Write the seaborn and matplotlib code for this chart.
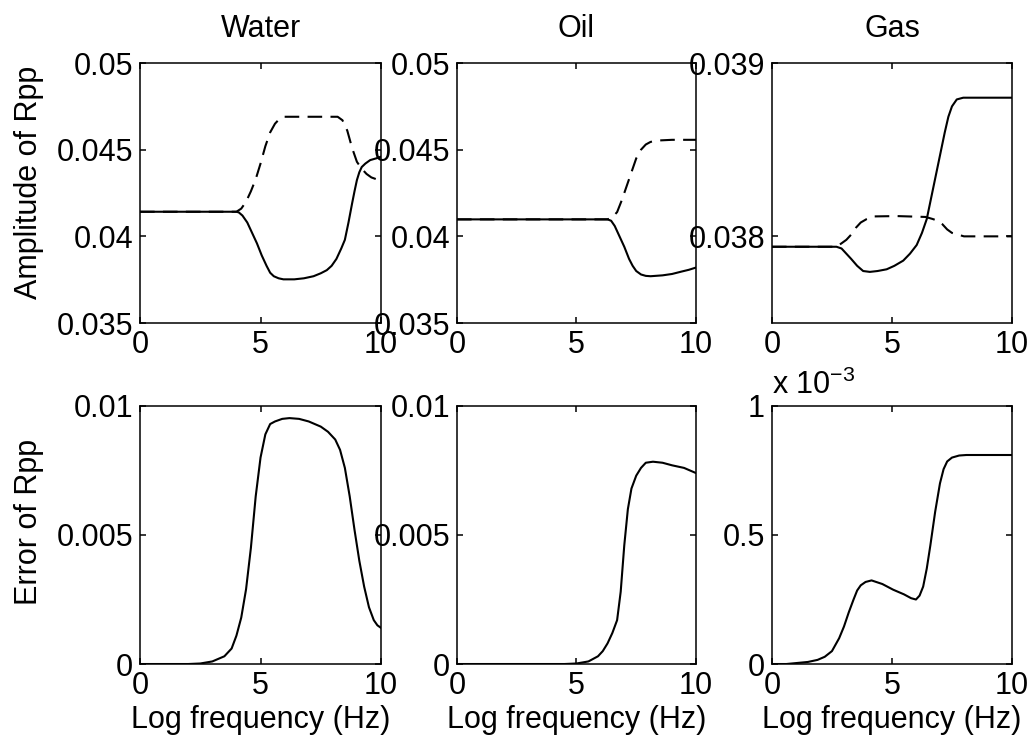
import matplotlib
matplotlib.use("Agg")
import matplotlib.pyplot as plt
import seaborn as sns

# ----------------------------------------
# Data
# ----------------------------------------

panel_titles = ["Water", "Oil", "Gas"]

# Water - amplitude of Rpp (solid / dashed) and error
water_solid_x = [0, 4.0, 4.1, 4.25, 4.45, 4.65, 4.85, 5.05, 5.25, 5.4, 5.55, 5.75, 5.95, 6.4, 6.8, 7.2,
                 7.5, 7.75, 7.95, 8.15, 8.35, 8.5, 8.65, 8.8, 8.9, 9.0, 9.1, 9.2, 9.35, 9.55, 9.8, 10]
water_solid_y = [0.04142, 0.04142, 0.04138, 0.0412, 0.0408, 0.0402, 0.0396, 0.0389, 0.0383, 0.0379,
                 0.0377, 0.03758, 0.03752, 0.03752, 0.03758, 0.0377, 0.03787, 0.03805, 0.0383, 0.0387,
                 0.0393, 0.0398, 0.0408, 0.0419, 0.0426, 0.04325, 0.0437, 0.0440, 0.0442, 0.0444,
                 0.0445, 0.0446]
water_dash_x = [0, 4.0, 4.2, 4.4, 4.6, 4.8, 5.0, 5.2, 5.4, 5.6, 5.8, 6.0, 8.2, 8.4, 8.6, 8.8, 9.0,
                9.2, 9.4, 9.6, 9.8, 10]
water_dash_y = [0.04142, 0.04142, 0.0416, 0.0420, 0.0426, 0.0433, 0.0442, 0.0452, 0.0460, 0.0465,
                0.0468, 0.0469, 0.0469, 0.0467, 0.0461, 0.0451, 0.0443, 0.0439, 0.0436, 0.0434,
                0.0433, 0.0432]
water_err_x = [0, 2.0, 2.5, 3.0, 3.5, 3.8, 4.0, 4.2, 4.4, 4.6, 4.8, 5.0, 5.2, 5.4, 5.6, 5.9, 6.2,
               6.6, 7.0, 7.5, 7.8, 8.1, 8.3, 8.5, 8.7, 8.9, 9.1, 9.3, 9.5, 9.7, 9.85, 10]
water_err_y = [0, 0, 0.00002, 0.0001, 0.0003, 0.0006, 0.0011, 0.0018, 0.0029, 0.0045, 0.0065,
               0.0080, 0.0089, 0.0093, 0.0094, 0.0095, 0.00953, 0.0095, 0.0094, 0.0092, 0.0090,
               0.0087, 0.0083, 0.0076, 0.0065, 0.0052, 0.0040, 0.0030, 0.0022, 0.0017, 0.0015,
               0.0014]

# Oil
oil_solid_x = [0, 6.3, 6.45, 6.6, 6.8, 7.0, 7.2, 7.35, 7.5, 7.7, 7.9, 8.1, 8.6, 9.0, 9.4, 9.7, 10]
oil_solid_y = [0.04098, 0.04098, 0.0409, 0.0406, 0.0400, 0.0394, 0.0387, 0.0383, 0.0380, 0.0378,
               0.03772, 0.0377, 0.03775, 0.03783, 0.03797, 0.03807, 0.0382]
oil_dash_x = [0, 6.3, 6.5, 6.7, 6.9, 7.1, 7.3, 7.5, 7.7, 7.9, 8.1, 8.4, 9.0, 10]
oil_dash_y = [0.04098, 0.04098, 0.0411, 0.0414, 0.0421, 0.0429, 0.0437, 0.0445, 0.0450, 0.0453,
              0.04545, 0.04553, 0.04557, 0.04557]
oil_err_x = [0, 4.5, 5.0, 5.5, 5.9, 6.1, 6.3, 6.5, 6.7, 6.85, 7.0, 7.15, 7.3, 7.5, 7.7, 7.9, 8.2,
             8.6, 9.0, 9.5, 10]
oil_err_y = [0, 0, 0.00002, 0.0001, 0.0003, 0.0005, 0.0008, 0.0012, 0.0017, 0.0028, 0.0046, 0.0060,
             0.0068, 0.0073, 0.0076, 0.0078, 0.00784, 0.0078, 0.0077, 0.0076, 0.0074]

# Gas (error in units of 1e-3)
gas_solid_x = [0, 2.69, 2.9, 3.1, 3.3, 3.55, 3.8, 4.08, 4.4, 4.78, 5.1, 5.47, 5.75, 6.03, 6.25,
               6.45, 6.6, 6.75, 6.9, 7.05, 7.2, 7.35, 7.5, 7.7, 7.97, 10]
gas_solid_y = [0.03794, 0.03794, 0.03793, 0.0379, 0.03787, 0.03783, 0.0378, 0.037795, 0.0378,
               0.03781, 0.03783, 0.03786, 0.0379, 0.03795, 0.03802, 0.0381, 0.0382, 0.0383, 0.0384,
               0.0385, 0.0386, 0.03869, 0.03875, 0.03879, 0.0388, 0.0388]
gas_dash_x = [0, 2.69, 2.9, 3.1, 3.3, 3.5, 3.7, 3.95, 4.22, 5.2, 6.4, 6.7, 6.9, 7.1, 7.3, 7.5, 7.75,
              8.0, 10]
gas_dash_y = [0.03794, 0.03794, 0.03796, 0.03798, 0.03801, 0.03805, 0.03808, 0.0381, 0.038115,
              0.038117, 0.038112, 0.0381, 0.03809, 0.03807, 0.03804, 0.03802, 0.03801, 0.0380, 0.0380]
gas_err_x = [0, 0.6, 1.5, 1.9, 2.2, 2.5, 2.8, 3.0, 3.2, 3.4, 3.55, 3.7, 3.9, 4.15, 4.6, 5.05, 5.5,
             5.8, 6.0, 6.15, 6.3, 6.45, 6.6, 6.8, 7.0, 7.15, 7.3, 7.5, 7.8, 8.1, 10]
gas_err_y = [0, 0, 0.008, 0.016, 0.028, 0.05, 0.10, 0.145, 0.20, 0.25, 0.285, 0.305, 0.318, 0.324,
             0.31, 0.288, 0.27, 0.255, 0.25, 0.265, 0.30, 0.37, 0.46, 0.59, 0.70, 0.755, 0.785,
             0.80, 0.808, 0.81, 0.81]

x_ticks = [0, 5, 10]
amp_ticks = [0.035, 0.04, 0.045, 0.05]
amp_labels = ["0.035", "0.04", "0.045", "0.05"]
gas_amp_ticks = [0.038, 0.039]
gas_amp_labels = ["0.038", "0.039"]
err_ticks = [0, 0.005, 0.01]
err_labels = ["0", "0.005", "0.01"]
gas_err_ticks = [0, 0.5, 1]
gas_err_labels = ["0", "0.5", "1"]

# ----------------------------------------
# Style (MATLAB look)
# ----------------------------------------

sns.set_style("ticks", {
    "xtick.direction": "in",
    "ytick.direction": "in",
    "xtick.top": True,
    "ytick.right": True,
    "axes.edgecolor": "black",
    "text.color": "black",
    "axes.labelcolor": "black",
    "xtick.color": "black",
    "ytick.color": "black",
})
plt.rcParams["font.family"] = ["Liberation Sans", "DejaVu Sans"]
plt.rcParams["mathtext.fontset"] = "custom"
plt.rcParams["mathtext.rm"] = "Liberation Sans"
plt.rcParams["mathtext.it"] = "Liberation Sans"
plt.rcParams["axes.linewidth"] = 1.1
plt.rcParams["xtick.major.size"] = 4
plt.rcParams["ytick.major.size"] = 4

FS = 22
LW = 1.5
fig = plt.figure(figsize=(10.32, 7.46), dpi=100)

lefts = [0.1357, 0.4428, 0.748]
widths = [0.2335, 0.2316, 0.2326]
top_row = (0.567, 0.3485)
bot_row = (0.1099, 0.3459)

amp_data = [
    (water_solid_x, water_solid_y, water_dash_x, water_dash_y),
    (oil_solid_x, oil_solid_y, oil_dash_x, oil_dash_y),
    (gas_solid_x, gas_solid_y, gas_dash_x, gas_dash_y),
]
err_data = [(water_err_x, water_err_y), (oil_err_x, oil_err_y), (gas_err_x, gas_err_y)]

for i in range(3):
    # top row: amplitude
    ax = fig.add_axes([lefts[i], top_row[0], widths[i], top_row[1]])
    sx, sy, dx, dy = amp_data[i]
    sns.lineplot(x=sx, y=sy, ax=ax, color="black", lw=LW)
    sns.lineplot(x=dx, y=dy, ax=ax, color="black", lw=LW, linestyle=(0, (7, 4)))
    ax.set_xlim(0, 10)
    ax.set_xticks(x_ticks)
    ax.set_xticklabels([str(t) for t in x_ticks])
    if i < 2:
        ax.set_ylim(0.035, 0.05)
        ax.set_yticks(amp_ticks)
        ax.set_yticklabels(amp_labels)
    else:
        ax.set_ylim(0.0375, 0.039)
        ax.set_yticks(gas_amp_ticks)
        ax.set_yticklabels(gas_amp_labels)
    ax.set_title(panel_titles[i], fontsize=FS, pad=19)
    ax.tick_params(labelsize=FS, pad=5, width=1.1)
    for s in ax.spines.values():
        s.set_visible(True)

    # bottom row: error
    ax = fig.add_axes([lefts[i], bot_row[0], widths[i], bot_row[1]])
    ex, ey = err_data[i]
    sns.lineplot(x=ex, y=ey, ax=ax, color="black", lw=LW)
    ax.set_xlim(0, 10)
    ax.set_xticks(x_ticks)
    ax.set_xticklabels([str(t) for t in x_ticks])
    if i < 2:
        ax.set_ylim(0, 0.01)
        ax.set_yticks(err_ticks)
        ax.set_yticklabels(err_labels)
    else:
        ax.set_ylim(0, 1)
        ax.set_yticks(gas_err_ticks)
        ax.set_yticklabels(gas_err_labels)
        ax.text(0.0, 1.02, r"x 10$^{-3}$", transform=ax.transAxes, fontsize=FS,
                ha="left", va="bottom")
    ax.set_xlabel("Log frequency (Hz)", fontsize=FS, labelpad=3)
    ax.tick_params(labelsize=FS, pad=5, width=1.1)
    for s in ax.spines.values():
        s.set_visible(True)

fig.text(0.028, 0.756, "Amplitude of Rpp", rotation=90, fontsize=FS, ha="center", va="center")
fig.text(0.028, 0.300, "Error of Rpp", rotation=90, fontsize=FS, ha="center", va="center")

fig.savefig("out.png", dpi=100)
